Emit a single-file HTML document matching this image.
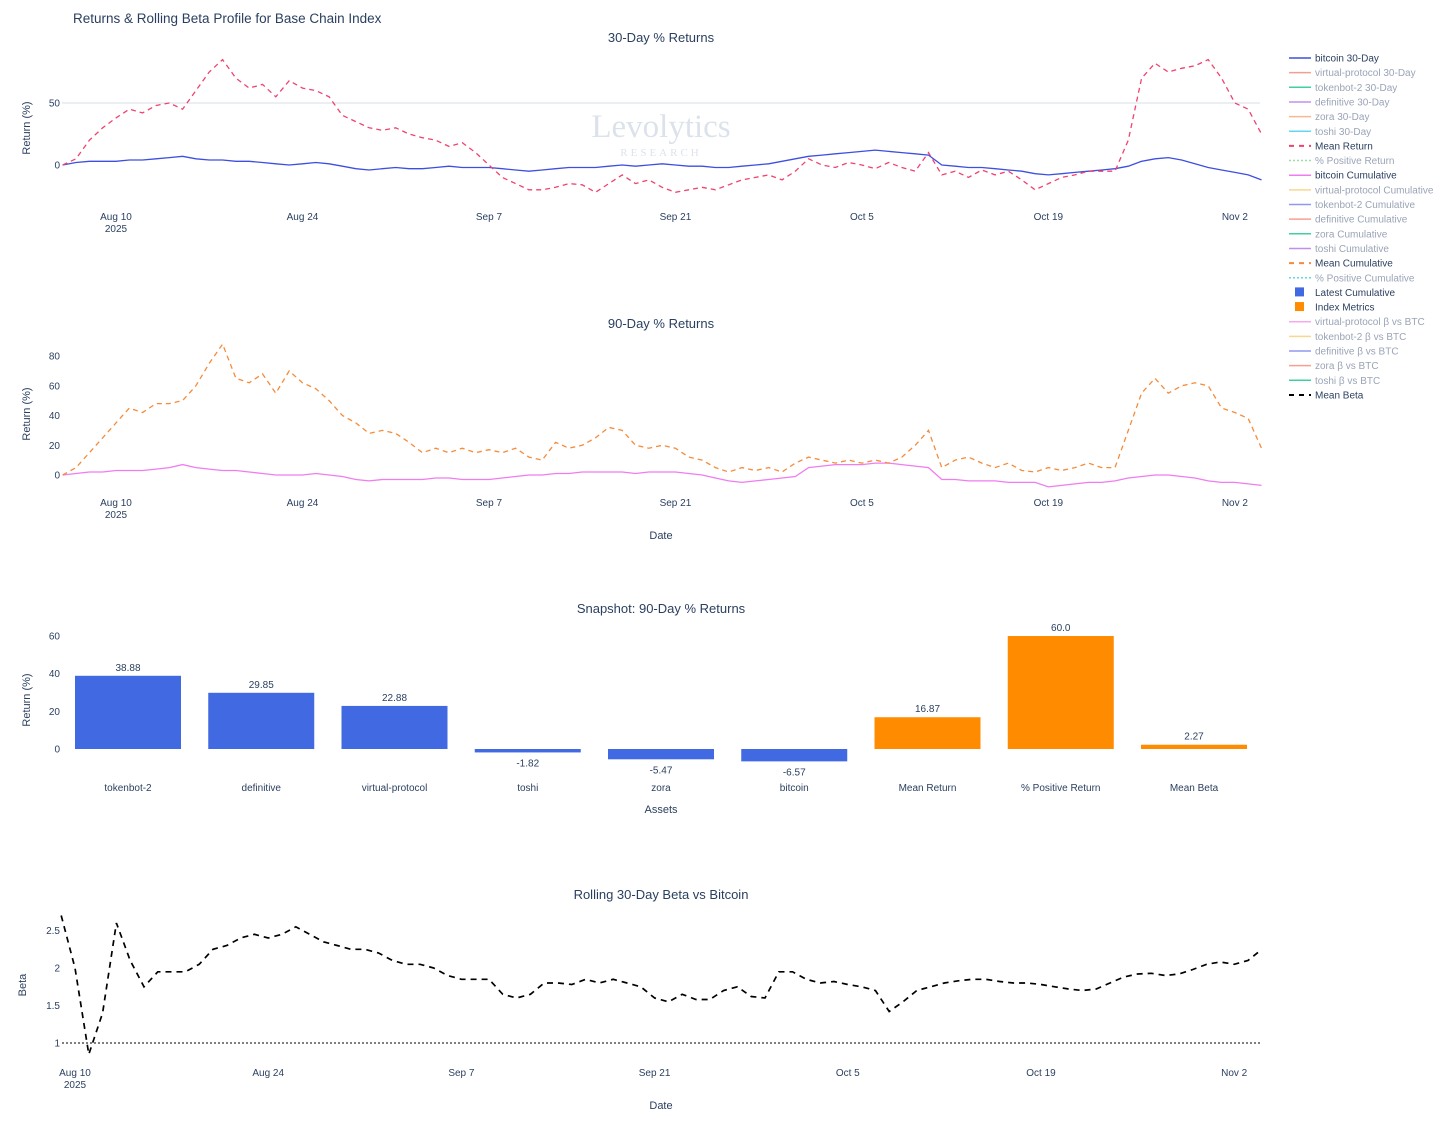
<!DOCTYPE html>
<html><head><meta charset="utf-8">
<style>
body{margin:0;background:#fff;font-family:"Liberation Sans","DejaVu Sans",sans-serif;}
</style></head>
<body>
<svg id="chart" width="1456" height="1119" viewBox="0 0 1456 1119" xmlns="http://www.w3.org/2000/svg" font-family="Liberation Sans, DejaVu Sans, sans-serif">
<rect width="1456" height="1119" fill="#fff"/>
<text x="73" y="23" font-size="13.5" fill="#2a3f5f">Returns &amp; Rolling Beta Profile for Base Chain Index</text>
<g opacity="0.3">
<text x="661" y="137" font-size="33" fill="#8ea2c0" text-anchor="middle" style="font-family:'Liberation Serif',serif">Levolytics</text>
<text x="661" y="156" font-size="11" fill="#8ea2c0" text-anchor="middle" letter-spacing="3" style="font-family:'Liberation Serif',serif">RESEARCH</text>
</g>
<g id="p1"></g><g id="p2"></g><g id="p3"></g><g id="p4"></g><g id="legend"></g>
</svg>
<script>
// ---- data ----
const dateTickLabels = ["Aug 10","Aug 24","Sep 7","Sep 21","Oct 5","Oct 19","Nov 2"];
const meanReturn30 = [0,5,20,30,38,45,42,48,50,45,60,75,85,70,62,65,55,68,62,60,55,40,35,30,28,30,25,22,20,15,18,10,0,-10,-15,-20,-20,-18,-15,-16,-22,-15,-8,-15,-12,-18,-22,-20,-18,-20,-16,-12,-10,-8,-12,-5,5,0,-2,2,0,-3,2,-2,-5,10,-8,-5,-10,-4,-8,-5,-12,-20,-15,-10,-8,-5,-5,-5,20,70,82,75,78,80,85,70,50,45,25];
const btc30 = [0,2,3,3,3,4,4,5,6,7,5,4,4,3,3,2,1,0,1,2,1,-1,-3,-4,-3,-2,-3,-3,-2,-1,-2,-2,-2,-3,-4,-5,-4,-3,-2,-2,-2,-1,0,-1,0,1,0,-1,-1,-2,-2,-1,0,1,3,5,7,8,9,10,11,12,11,10,9,8,0,-1,-2,-2,-3,-4,-5,-7,-8,-7,-6,-5,-4,-3,-1,3,5,6,4,1,-2,-4,-6,-8,-12];
const meanCum90 = [0,5,15,25,35,45,42,48,48,50,60,75,88,65,62,68,55,70,62,58,50,40,35,28,30,28,22,15,18,15,18,15,17,15,18,12,10,22,18,20,25,32,30,20,18,20,18,12,10,5,2,5,3,5,2,8,12,10,8,10,8,10,8,12,20,30,5,10,12,8,5,8,3,2,5,3,5,8,5,5,30,55,65,55,60,62,60,45,42,38,18];
const btcCum90 = [0,1,2,2,3,3,3,4,5,7,5,4,3,3,2,1,0,0,0,1,0,-1,-3,-4,-3,-3,-3,-3,-2,-2,-3,-3,-3,-2,-1,0,0,1,1,2,2,2,2,1,2,2,2,1,0,-2,-4,-5,-4,-3,-2,-1,5,6,7,7,7,8,8,7,6,5,-3,-3,-4,-4,-4,-5,-5,-5,-8,-7,-6,-5,-5,-4,-2,-1,0,0,-1,-2,-4,-5,-5,-6,-7];
const barCategories = ["tokenbot-2","definitive","virtual-protocol","toshi","zora","bitcoin","Mean Return","% Positive Return","Mean Beta"];
const barValues = [38.88,29.85,22.88,-1.82,-5.47,-6.57,16.87,60.0,2.27];
const barLabels = ["38.88","29.85","22.88","-1.82","-5.47","-6.57","16.87","60.0","2.27"];
const barGroup = ["a","a","a","a","a","a","m","m","m"];
const meanBeta = [2.7,2.0,0.85,1.4,2.6,2.1,1.75,1.95,1.95,1.95,2.05,2.25,2.3,2.4,2.45,2.4,2.45,2.55,2.45,2.35,2.3,2.25,2.25,2.2,2.1,2.05,2.05,2.0,1.9,1.85,1.85,1.85,1.65,1.6,1.65,1.8,1.8,1.78,1.85,1.8,1.85,1.8,1.75,1.6,1.55,1.65,1.58,1.58,1.7,1.75,1.62,1.6,1.95,1.95,1.85,1.8,1.82,1.78,1.75,1.7,1.42,1.55,1.7,1.75,1.8,1.83,1.85,1.85,1.82,1.8,1.8,1.78,1.75,1.72,1.7,1.72,1.8,1.88,1.92,1.93,1.9,1.92,1.98,2.05,2.08,2.05,2.1,2.25];
const ticks1 = [0,50], ticks2 = [0,20,40,60,80], ticks3 = [0,20,40,60], ticks4 = [1,1.5,2,2.5];
const tickLabels4 = ["1","1.5","2","2.5"];
const grid1 = [50];

const NS="http://www.w3.org/2000/svg";
function mk(parent,tag,attrs,text){const e=document.createElementNS(NS,tag);for(const k in attrs)e.setAttribute(k,attrs[k]);if(text!==undefined)e.textContent=text;parent.appendChild(e);return e;}

function xA(d){return 116+(d-4)*13.32;}
function xB(d){return 75+(d-1)*13.8;}
function yA(v){return 165-v*1.24;}
function yB(v){return 475-v*1.4875;}
function yC(v){return 749-v*1.883;}
function yD(v){return 1043-(v-1)*75;}

function axisDates(g,xf,off,y){
  dateTickLabels.forEach((t,i)=>{
    const x=xf(off+i*14);
    const tl=mk(g,'text',{x:x,y:y,'font-size':10,fill:'#2a3f5f','text-anchor':'middle'},t);
    
    
    if(i===0){const yl=mk(g,'text',{x:x,y:y+12,'font-size':10,fill:'#2a3f5f','text-anchor':'middle'},'2025');
      
      }
  });
}
function yTicks(g,ticks,yf,labels){
  ticks.forEach((t,i)=>{
    const tl=mk(g,'text',{x:60,y:yf(t)+3.5,'font-size':10,fill:'#2a3f5f','text-anchor':'end'},labels?labels[i]:String(t));
    
    
  });
}
function grid(g,vals,yf){
  vals.forEach(t=>{
    const gl=mk(g,'line',{x1:62,x2:1260,y1:yf(t),y2:yf(t),stroke:'#dfe4ec','stroke-width':1.2});
    
    
  });
}
function title(g,x,y,t,name){const e=mk(g,'text',{x:x,y:y,'font-size':13,fill:'#2a3f5f','text-anchor':'middle'},t);}
function ytitle(g,y,t,x){x=x||30;const e=mk(g,'text',{x:x,y:y,'font-size':11,fill:'#2a3f5f','text-anchor':'middle',transform:`rotate(-90 ${x} ${y})`},t);}
function line(g,arr,xf,yf,color,dash,name,width){
  const d=arr.map((v,i)=>(i?'L':'M')+xf(i).toFixed(1)+' '+yf(v).toFixed(1)).join(' ');
  const p=mk(g,'path',{d:d,fill:'none',stroke:color,'stroke-width':width||1.3,'stroke-dasharray':dash||'none'});
  
  
}

// chart 1
const p1=document.getElementById('p1');
title(p1,661,42,'30-Day % Returns','chart1-title');
grid(p1,grid1,yA);
yTicks(p1,ticks1,yA);
ytitle(p1,128,'Return (%)');
axisDates(p1,xA,4,220);
line(p1,btc30,xA,yA,'#3d4fe0',null,'bitcoin-30day-line');
line(p1,meanReturn30,xA,yA,'#f0426e','5 4','mean-return-line');

// chart 2
const p2=document.getElementById('p2');
title(p2,661,328,'90-Day % Returns','chart2-title');
yTicks(p2,ticks2,yB);
ytitle(p2,414,'Return (%)');
axisDates(p2,xA,4,506);
const xt2=mk(p2,'text',{x:661,y:539,'font-size':11,fill:'#2a3f5f','text-anchor':'middle'},'Date');


line(p2,btcCum90,xA,yB,'#f07cf0',null,'bitcoin-cumulative-line');
line(p2,meanCum90,xA,yB,'#f58b3a','5 4','mean-cumulative-line');

// chart 3 bars
const p3=document.getElementById('p3');
title(p3,661,613,'Snapshot: 90-Day % Returns','chart3-title');
yTicks(p3,ticks3,yC);
ytitle(p3,700,'Return (%)');
barValues.forEach((v,i)=>{
  const cx=128+i*133.25, w=106;
  const y0=yC(0), y1=yC(v);
  const r=mk(p3,'rect',{x:cx-w/2,y:Math.min(y0,y1),width:w,height:Math.max(1,Math.abs(y1-y0)),fill:barGroup[i]==='a'?'#4169e1':'#ff8c00'});
  
  
  const ly=v>=0?y1-5:y1+14;
  const lt=mk(p3,'text',{x:cx,y:ly,'font-size':10,fill:'#2a3f5f','text-anchor':'middle'},barLabels[i]);
  
  
  const ct=mk(p3,'text',{x:cx,y:791,'font-size':10,fill:'#2a3f5f','text-anchor':'middle'},barCategories[i]);
  
  
});
const xt3=mk(p3,'text',{x:661,y:813,'font-size':11,fill:'#2a3f5f','text-anchor':'middle'},'Assets');



// chart 4 beta
const p4=document.getElementById('p4');
title(p4,661,899,'Rolling 30-Day Beta vs Bitcoin','chart4-title');
yTicks(p4,ticks4,yD,tickLabels4);
ytitle(p4,985,'Beta',26);
axisDates(p4,xB,1,1076);
const xt4=mk(p4,'text',{x:661,y:1109,'font-size':11,fill:'#2a3f5f','text-anchor':'middle'},'Date');


const ref=mk(p4,'line',{x1:62,x2:1260,y1:yD(1),y2:yD(1),stroke:'#555','stroke-width':1.5,'stroke-dasharray':'2 2'});


line(p4,meanBeta,xB,yD,'#000','6 5','mean-beta-line',1.7);

// legend
const legendItems=[
 ['bitcoin 30-Day','#3d4fe0','l',1],['virtual-protocol 30-Day','#f0a090','l',0],['tokenbot-2 30-Day','#40d0a0','l',0],
 ['definitive 30-Day','#c090f0','l',0],['zora 30-Day','#f8b890','l',0],['toshi 30-Day','#60d8f0','l',0],
 ['Mean Return','#f0426e','d',1],['% Positive Return','#a0e0a0','o',0],['bitcoin Cumulative','#f07cf0','l',1],
 ['virtual-protocol Cumulative','#f8d890','l',0],['tokenbot-2 Cumulative','#9098f0','l',0],['definitive Cumulative','#f8a090','l',0],
 ['zora Cumulative','#40d0a0','l',0],['toshi Cumulative','#c090f0','l',0],['Mean Cumulative','#f58b3a','d',1],
 ['% Positive Cumulative','#60d8e0','o',0],['Latest Cumulative','#4169e1','s',1],['Index Metrics','#ff8c00','s',1],
 ['virtual-protocol β vs BTC','#f8a8f0','l',0],['tokenbot-2 β vs BTC','#f8d890','l',0],['definitive β vs BTC','#9098f0','l',0],
 ['zora β vs BTC','#f8a090','l',0],['toshi β vs BTC','#40d0a0','l',0],['Mean Beta','#000','d',1]];
const lg=document.getElementById('legend');
legendItems.forEach((it,i)=>{
  const y=58+i*14.65;
  const g=mk(lg,'g',{});
  
  
  if(it[2]==='s') mk(g,'rect',{x:1295,y:y-5,width:9,height:9,fill:it[1]});
  else mk(g,'line',{x1:1289,x2:1311,y1:y,y2:y,stroke:it[1],'stroke-width':it[2]==='d'?2:1.5,'stroke-dasharray':it[2]==='d'?'5 5':(it[2]==='o'?'2 2':'none')});
  mk(g,'text',{x:1315,y:y+3.5,'font-size':10,fill:it[3]?'#2a3f5f':'#9aa4b6'},it[0]);
});
</script>
</body></html>
